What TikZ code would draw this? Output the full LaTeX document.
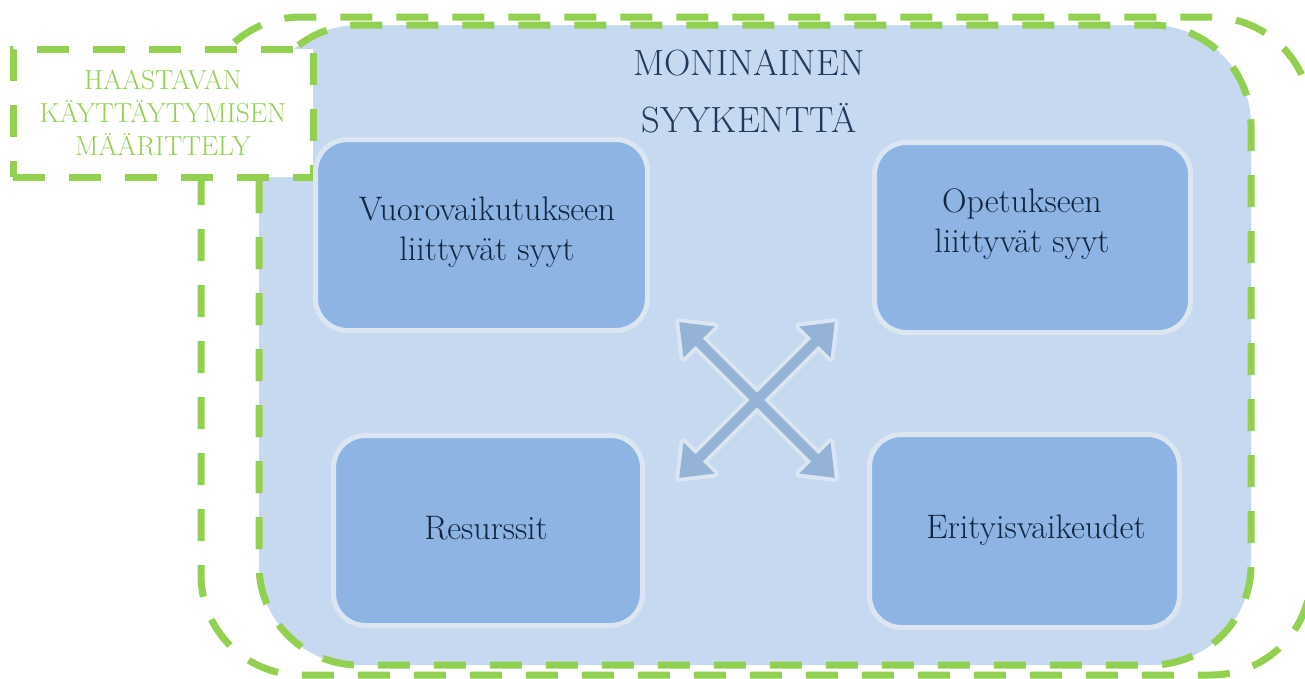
\documentclass[tikz,border=0pt]{standalone}
\usepackage{fontspec}
\definecolor{bgblue}{HTML}{C6D9F1}
\definecolor{boxblue}{HTML}{8EB4E3}
\definecolor{rimblue}{HTML}{DCE6F2}
\definecolor{arrowblue}{HTML}{95B3D7}
\definecolor{lgreen}{HTML}{92D050}
\definecolor{navy}{HTML}{10253F}
\definecolor{titlenavy}{HTML}{1F3A5C}
\tikzset{
  gdash/.style={draw=lgreen, line width=7pt, dash pattern=on 32pt off 24pt},
  catbox/.style={rectangle, rounded corners=32pt, fill=boxblue, draw=rimblue, line width=5pt, inner sep=0pt},
  boxtext/.style={anchor=base, text=navy, font=\fontsize{34}{40}\selectfont, inner sep=0pt},
  titletext/.style={anchor=base, text=titlenavy, font=\fontsize{36.5}{40}\selectfont, inner sep=0pt},
  lblbox/.style={gdash, fill=white, minimum width=300pt, minimum height=128pt, inner sep=0pt,
    text=lgreen, align=center, font=\fontsize{27.5}{33}\selectfont},
  arrowrim/.style={draw=rimblue, line width=8pt, line join=round},
  arrowfill/.style={fill=arrowblue}
}
\begin{document}
\begin{tikzpicture}[x=1pt,y=-1pt]
\useasboundingbox (0,0) rectangle (1305,678);
% background field
\fill[bgblue, rounded corners=100pt] (259,25) rectangle (1251,665);
\draw[gdash, rounded corners=100pt] (259,25) rectangle (1251,665);
\draw[gdash, rounded corners=100pt] (201,17) rectangle (1311,675);
% definition label box
\node[lblbox] (def) at (163,113) {HAASTAVAN\\KÄYTTÄYTYMISEN\\MÄÄRITTELY};
% title
\node[titletext] (t1) at (749,75) {MONINAINEN};
\node[titletext] (t2) at (749,132) {SYYKENTTÄ};
% category boxes
\node[catbox, minimum width=332pt, minimum height=191pt] (b1) at (481.5,235) {};
\node[catbox, minimum width=316pt, minimum height=190pt] (b2) at (1032.5,237.5) {};
\node[catbox, minimum width=309pt, minimum height=190pt] (b3) at (488,530.5) {};
\node[catbox, minimum width=310pt, minimum height=193pt] (b4) at (1024.5,531) {};
\node[boxtext] (b1a) at (487,220) {Vuorovaikutukseen};
\node[boxtext] (b1b) at (487,260) {liittyvät syyt};
\node[boxtext] (b2a) at (1022,212) {Opetukseen};
\node[boxtext] (b2b) at (1022,252) {liittyvät syyt};
\node[boxtext] (b3a) at (486,539) {Resurssit};
\node[boxtext] (b4a) at (1036,538) {Erityisvaikeudet};
% crossing double arrows
\coordinate (x) at (757,400);
\def\arrowpath{(110,0) -- (82,22) -- (82,5) -- (-82,5) -- (-82,22) -- (-110,0) -- (-82,-22) -- (-82,-5) -- (82,-5) -- (82,-22) -- cycle}
\begin{scope}[shift={(x)}]
  \draw[arrowrim, rotate=45] \arrowpath;
  \draw[arrowrim, rotate=-45] \arrowpath;
  \fill[arrowfill, rotate=45] \arrowpath;
  \fill[arrowfill, rotate=-45] \arrowpath;
\end{scope}
\end{tikzpicture}
\end{document}
